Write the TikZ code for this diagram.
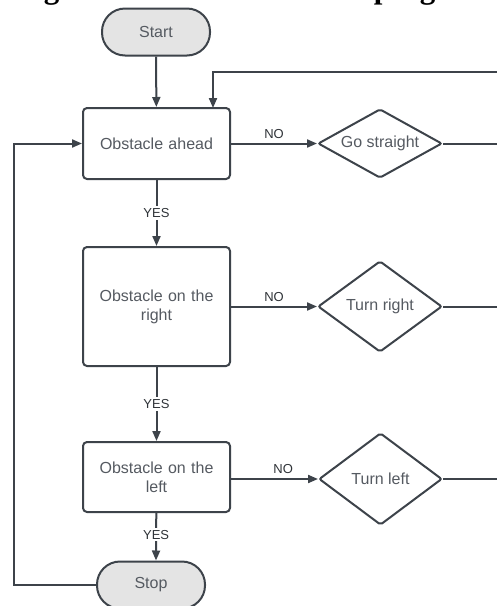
\documentclass[tikz,border=0pt]{standalone}
\usepackage{fontspec}
\setmainfont{Liberation Sans}
\newfontfamily\capfont{Liberation Serif}
\usetikzlibrary{shapes.geometric,arrows.meta}
\definecolor{linec}{HTML}{3D434A}
\definecolor{textc}{HTML}{555A61}
\definecolor{labc}{HTML}{2F3338}
\definecolor{termfill}{HTML}{E4E4E4}
\begin{document}
\begin{tikzpicture}[x=1pt,y=-1pt,
  every node/.style={font=\fontsize{16}{19}\selectfont, text=textc},
  terminal/.style={draw=linec, line width=2pt, fill=termfill, rectangle, rounded corners=23pt,
    minimum width=108pt, minimum height=47pt, inner sep=0pt},
  procbox/.style={draw=linec, line width=2pt, fill=white, rectangle, rounded corners=4pt,
    minimum width=147pt, inner sep=0pt, align=center, text width=130pt},
  actdia/.style={draw=linec, line width=2pt, fill=white, diamond, aspect=2, inner sep=0pt,
    rounded corners=2pt},
  conn/.style={draw=linec, line width=2pt},
  arr/.style={conn, -{Triangle[length=10pt,width=8pt]}},
  lab/.style={font=\fontsize{13}{15}\selectfont, text=labc, inner sep=1pt},
  yeslab/.style={lab, fill=white, inner sep=2pt}
]
\useasboundingbox (0,0) rectangle (497,606);
\clip (0,0) rectangle (497,606);
\fill[white] (0,0) rectangle (497,606);

% cut-off caption at the top
\node[anchor=base west, inner sep=0pt, text=black, font=\capfont\bfseries\fontsize{31}{31}\selectfont] (cap) at (16,-1.5) {Figure 2: Flowchart of the program};

% nodes
\node[terminal] (start) at (156,32) {Start};
\node[procbox, minimum height=71pt] (ahead) at (156.5,143.5) {Obstacle ahead};
\node[procbox, minimum height=119pt] (onright) at (156.5,306.5) {Obstacle on the\\right};
\node[procbox, minimum height=70pt] (onleft) at (156.5,477) {Obstacle on the\\left};
\node[terminal] (stop) at (151,585) {Stop};

\node[actdia, minimum width=124pt, minimum height=69pt] (straight) at (380,143.5) {Go straight};
\node[actdia, minimum width=124pt, minimum height=91pt] (tright) at (380,306.5) {Turn right};
\node[actdia, minimum width=123pt, minimum height=92pt] (tleft) at (380.5,479) {Turn left};

% helper coordinates
\coordinate (edge) at (497,0);
\coordinate (topR) at (497,72);
\coordinate (in2) at (213,108);
\coordinate (fb) at (14,0);

% connectors
\draw[arr] (start) -- (ahead);
\draw[arr] (topR) -| (in2);

\draw[arr] (ahead) -- node[yeslab] {YES} (onright);
\draw[arr] (onright) -- node[yeslab] {YES} (onleft);
\draw[arr] (onleft) -- node[yeslab, pos=0.46] {YES} ([xshift=5pt]stop.north);

\draw[arr] (ahead.east) -- node[lab, above=3pt] {NO} (straight.west);
\draw[arr] (onright.east) -- node[lab, above=3pt] {NO} (tright.west);
\draw[arr] (onleft.east |- tleft.west) -- node[lab, above=3pt, pos=0.6] {NO} (tleft.west);

\draw[conn] (straight.east) -- (straight.east -| edge);
\draw[conn] (tright.east) -- (tright.east -| edge);
\draw[conn] (tleft.east) -- (tleft.east -| edge);

\draw[arr] (stop.west) -- (stop.west -| fb) -- (ahead.west -| fb) -- (ahead.west);
\end{tikzpicture}
\end{document}
